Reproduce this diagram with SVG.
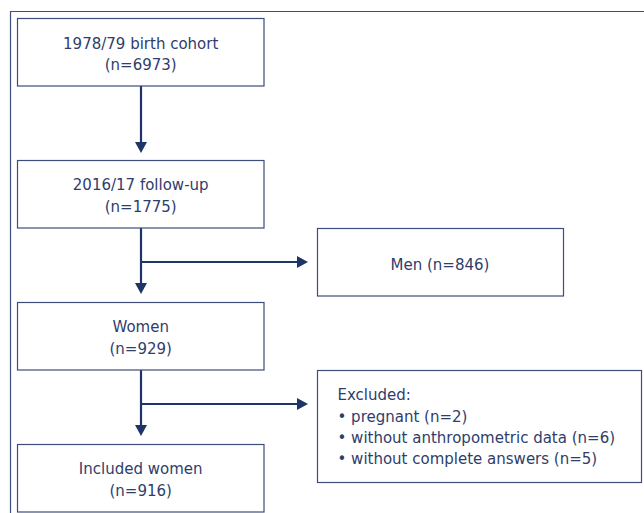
<svg xmlns="http://www.w3.org/2000/svg" width="644" height="513" viewBox="0 0 644 513">
<style>
.box{fill:#ffffff;stroke:#3e4d7b;stroke-width:1.2}
.frame{fill:none;stroke:#3e4d7b;stroke-width:1.2}
.t{font-family:"DejaVu Sans","Liberation Sans",sans-serif;font-size:15px;fill:#2f3d6b}
.c{text-anchor:middle}
.arr{fill:none;stroke:#1f3467;stroke-width:2.2}
</style>
<defs>
<marker id="ah" markerUnits="userSpaceOnUse" markerWidth="11" markerHeight="12" refX="2" refY="6" orient="auto">
<path d="M0,0 L11,6 L0,12 Z" fill="#1f3467"/>
</marker>
</defs>
<rect width="644" height="513" fill="#ffffff"/>
<path class="frame" d="M10.5,513 V11.5 H644"/>
<g id="connectors">
<line class="arr" x1="141" y1="86" x2="141" y2="144" marker-end="url(#ah)"/>
<line class="arr" x1="141" y1="228" x2="141" y2="285" marker-end="url(#ah)"/>
<line class="arr" x1="141" y1="262" x2="299" y2="262" marker-end="url(#ah)"/>
<line class="arr" x1="141" y1="370" x2="141" y2="427" marker-end="url(#ah)"/>
<line class="arr" x1="141" y1="404" x2="299" y2="404" marker-end="url(#ah)"/>
</g>
<g id="n1">
<rect class="box" x="17.5" y="18.5" width="246.5" height="67.5"/>
<text class="t c" x="140.7" y="48.5">1978/79 birth cohort</text>
<text class="t c" x="140.7" y="69.5">(n=6973)</text>
</g>
<g id="n2">
<rect class="box" x="17.5" y="160.5" width="246.5" height="67.5"/>
<text class="t c" x="140.7" y="190">2016/17 follow-up</text>
<text class="t c" x="140.7" y="211.5">(n=1775)</text>
</g>
<g id="n3">
<rect class="box" x="317.5" y="228.5" width="246" height="67.5"/>
<text class="t c" x="440" y="269.5">Men (n=846)</text>
</g>
<g id="n4">
<rect class="box" x="17.5" y="302.5" width="246.5" height="67.5"/>
<text class="t c" x="140.7" y="332">Women</text>
<text class="t c" x="140.7" y="353.5">(n=929)</text>
</g>
<g id="n5">
<rect class="box" x="317.5" y="370.5" width="324" height="112"/>
<text class="t" x="337.5" y="400">Excluded:</text>
<text class="t" x="337.5" y="421.5">• pregnant (n=2)</text>
<text class="t" x="337.5" y="442.5">• without anthropometric data (n=6)</text>
<text class="t" x="337.5" y="463.5">• without complete answers (n=5)</text>
</g>
<g id="n6">
<rect class="box" x="17.5" y="444.5" width="246.5" height="67.5"/>
<text class="t c" x="140.7" y="474">Included women</text>
<text class="t c" x="140.7" y="495.5">(n=916)</text>
</g>
</svg>
